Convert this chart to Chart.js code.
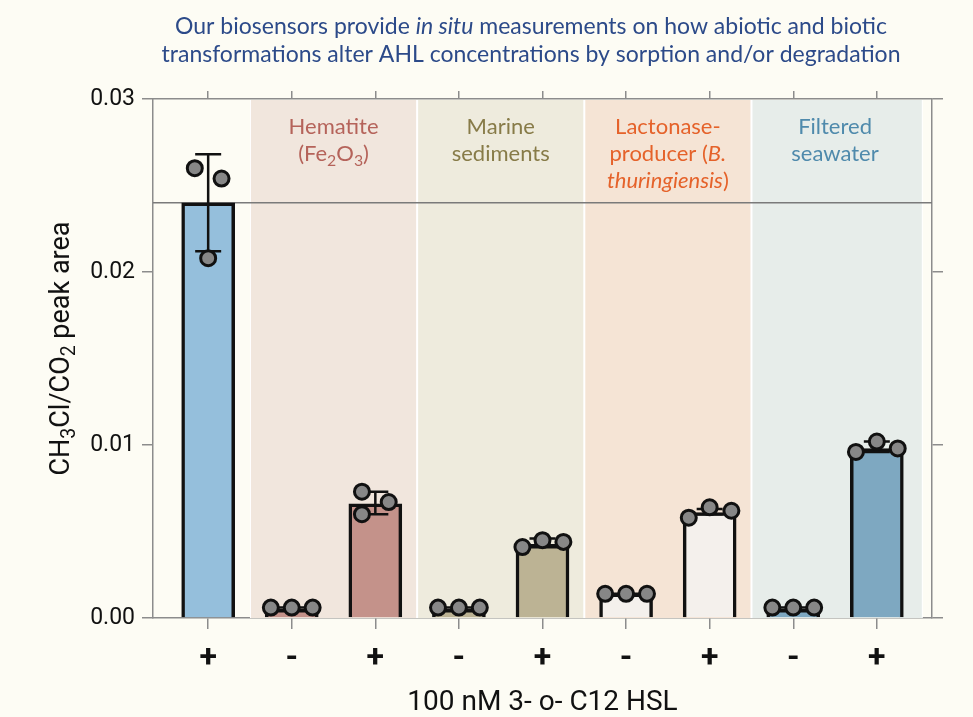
<!DOCTYPE html>
<html>
<head>
<meta charset="utf-8">
<script src="https://cdn.jsdelivr.net/npm/chart.js@4.4.0/dist/chart.umd.min.js"></script>
<style>
  body { margin: 0; background: #fdfcf4; }
  #wrap { width: 973px; height: 717px; }
</style>
</head>
<body>
<div id="wrap"><canvas id="myChart" width="973" height="717"></canvas></div>
<script>
// x categories: with / without 100 nM 3-o-C12 HSL
const xLabels = ["+", "-", "+", "-", "+", "-", "+", "-", "+"];
const means = [0.0240, 0.0005, 0.0066, 0.0005, 0.0042, 0.0014, 0.0061, 0.0005, 0.0098];
const errLow = [0.0212, 0.0006, 0.0060, 0.0006, 0.0042, 0.0014, 0.0060, 0.0006, 0.0096];
const errHigh = [0.0268, 0.0006, 0.0073, 0.0006, 0.0046, 0.0014, 0.0063, 0.0006, 0.0102];
// three replicates per bar and their horizontal jitter (in category units)
const replicates = [
  [0.0260, 0.0254, 0.0208],
  [0.0006, 0.0006, 0.0006],
  [0.0073, 0.0067, 0.0060],
  [0.0006, 0.0006, 0.0006],
  [0.0041, 0.0045, 0.0044],
  [0.0014, 0.0014, 0.0014],
  [0.0058, 0.0064, 0.0062],
  [0.0006, 0.0006, 0.0006],
  [0.0096, 0.0102, 0.0098]
];
const jitter = [
  [-0.16, 0.16, 0], [-0.25, 0, 0.25], [-0.16, 0.16, -0.16],
  [-0.25, 0, 0.25], [-0.24, 0, 0.25], [-0.25, 0, 0.25],
  [-0.25, 0, 0.26], [-0.25, 0, 0.25], [-0.25, 0, 0.25]
];
// treatment groups (first and last category index)
const groups = [[1, 2], [3, 4], [5, 6], [7, 8]];
const groupLabels = [
  ["Hematite", "(Fe_2O_3)"],
  ["Marine", "sediments"],
  ["Lactonase-", "producer (*B.*", "*thuringiensis*)"],
  ["Filtered", "seawater"]
];
const titleLines = [
  "Our biosensors provide *in situ* measurements on how abiotic and biotic",
  "transformations alter AHL concentrations by sorption and/or degradation"
];
const yTitle = "CH_3Cl/CO_2 peak area";
const xTitle = "100 nM 3- o- C12 HSL";

const barColors = ["#95bfdc", "#c4928a", "#c4928a", "#bcb394", "#bcb394", "#f4f0ec", "#f4f0ec", "#7ea8c1", "#7ea8c1"];
const bandColors = ["#f1e6dd", "#eeebdd", "#f5e4d5", "#e7edea"];
const labelColors = ["#b5635a", "#877b48", "#e5622a", "#4f8aac"];
const axisGray = "#8c8c8c";

// tiny rich text: *italic*, _2 subscript
function parseRich(str) {
  return str.split(/(\*[^*]+\*|_\d)/).filter(s => s).map(s => {
    if (s[0] === "*") return { t: s.slice(1, -1), it: true };
    if (s[0] === "_") return { t: s.slice(1), sub: true };
    return { t: s };
  });
}
function drawRich(ctx, str, cx, cy, size, family, color) {
  const segs = parseRich(str);
  const fontOf = s => (s.it ? "italic " : "") + (s.sub ? size * 0.72 : size) + "px " + family;
  let w = 0;
  segs.forEach(s => { ctx.font = fontOf(s); s.w = ctx.measureText(s.t).width; w += s.w; });
  let x = cx - w / 2;
  ctx.fillStyle = color;
  ctx.textAlign = "left";
  ctx.textBaseline = "middle";
  segs.forEach(s => {
    ctx.font = fontOf(s);
    ctx.fillText(s.t, x, cy + (s.sub ? size * 0.3 : 0));
    x += s.w;
  });
}

const decor = {
  id: "decor",
  beforeDatasetsDraw(chart) {
    const { ctx, chartArea: a, scales: { x, y } } = chart;
    ctx.save();
    const l0 = x.getPixelForValue(groups[0][0] - 0.5);
    const r0 = x.getPixelForValue(groups[groups.length - 1][1] + 0.55);
    ctx.fillStyle = "#ffffff";
    ctx.fillRect(l0, a.top + 1, r0 - l0, a.bottom - a.top - 1);
    groups.forEach((g, k) => {
      const l = x.getPixelForValue(g[0] - 0.5);
      const r = x.getPixelForValue(g[1] + (k === groups.length - 1 ? 0.55 : 0.5));
      ctx.fillStyle = bandColors[k];
      ctx.fillRect(l + 1, a.top + 1, r - l - 2, a.bottom - a.top - 1);
    });
    const yc = y.getPixelForValue(means[0]);
    ctx.strokeStyle = "#7a7a7a";
    ctx.lineWidth = 1.5;
    ctx.beginPath();
    ctx.moveTo(a.left, yc);
    ctx.lineTo(a.right, yc);
    ctx.stroke();
    groupLabels.forEach((lines, k) => {
      const cx = x.getPixelForValue((groups[k][0] + groups[k][1]) / 2);
      lines.forEach((ln, j) => drawRich(ctx, ln, cx, a.top + 28 + j * 27, 22, "Lato", labelColors[k]));
    });
    ctx.restore();
  },
  afterDatasetDraw(chart, args) {
    if (args.meta.type !== "bar") return;
    const { ctx, scales: { x, y } } = chart;
    ctx.save();
    ctx.strokeStyle = "#111";
    ctx.lineWidth = 2.5;
    means.forEach((m, i) => {
      const px = x.getPixelForValue(i);
      const lo = y.getPixelForValue(errLow[i]);
      const hi = y.getPixelForValue(errHigh[i]);
      ctx.beginPath();
      ctx.moveTo(px, lo); ctx.lineTo(px, hi);
      ctx.moveTo(px - 13, lo); ctx.lineTo(px + 13, lo);
      ctx.moveTo(px - 13, hi); ctx.lineTo(px + 13, hi);
      ctx.stroke();
    });
    ctx.restore();
  },
  afterDraw(chart) {
    const { ctx, chartArea: a } = chart;
    ctx.save();
    titleLines.forEach((ln, j) => drawRich(ctx, ln, 531, 27 + j * 28, 23, "Lato", "#2c4a89"));
    ctx.translate(62, (a.top + a.bottom) / 2 - 10);
    ctx.rotate(-Math.PI / 2);
    drawRich(ctx, yTitle, 0, 0, 27, "Roboto", "#111");
    ctx.restore();
  }
};

const sideGrid = { drawOnChartArea: false, color: axisGray, lineWidth: 1.5, tickLength: 11 };
const sideBorder = { color: axisGray, width: 1.5 };
const setXTicks = s => { s.ticks = xLabels.map((_, i) => ({ value: i })); };

new Chart(document.getElementById("myChart"), {
  type: "bar",
  data: {
    datasets: [
      {
        type: "bar",
        data: means.map((v, i) => ({ x: i, y: v })),
        backgroundColor: barColors,
        borderColor: "#111",
        borderWidth: 3.5,
        borderSkipped: "start",
        barThickness: 53,
        order: 2
      },
      {
        type: "scatter",
        data: replicates.flatMap((r, i) => r.map((v, j) => ({ x: i + jitter[i][j], y: v }))),
        pointRadius: 7.5,
        pointBackgroundColor: "#878787",
        pointBorderColor: "#111",
        pointBorderWidth: 3,
        order: 1
      }
    ]
  },
  options: {
    responsive: false,
    animation: false,
    layout: { padding: 0 },
    plugins: { legend: { display: false }, tooltip: { enabled: false } },
    scales: {
      x: {
        type: "linear", position: "bottom", min: -0.66, max: 8.66, offset: false,
        afterBuildTicks: setXTicks,
        afterFit: s => { s.height = 99; },
        grid: Object.assign({ offset: false }, sideGrid), border: sideBorder,
        ticks: {
          callback: v => xLabels[v],
          font: { family: "Roboto", size: 32, weight: "bold" },
          color: "#111", padding: 11, maxRotation: 0, autoSkip: false
        },
        title: {
          display: true, text: xTitle,
          font: { family: "Roboto", size: 28, lineHeight: 1 }, color: "#111",
          padding: { top: 0, bottom: 0 }
        }
      },
      xTop: {
        type: "linear", position: "top", min: -0.66, max: 8.66, offset: false,
        afterBuildTicks: setXTicks,
        afterFit: s => { s.height = 99; },
        grid: { offset: false, drawOnChartArea: false, color: axisGray, lineWidth: 1.5, tickLength: 8 },
        border: sideBorder,
        ticks: { callback: () => "", padding: 0 }
      },
      y: {
        position: "left", min: 0, max: 0.03,
        afterFit: s => { s.width = 153; },
        grid: sideGrid, border: sideBorder,
        ticks: {
          stepSize: 0.01, callback: v => v.toFixed(2),
          font: { family: "Roboto", size: 23 }, color: "#111", padding: 7
        }
      },
      yRight: {
        position: "right", min: 0, max: 0.03,
        afterFit: s => { s.width = 41; },
        grid: sideGrid, border: sideBorder,
        ticks: { stepSize: 0.01, callback: () => "", padding: 0 }
      }
    }
  },
  plugins: [decor]
});
</script>
</body>
</html>
